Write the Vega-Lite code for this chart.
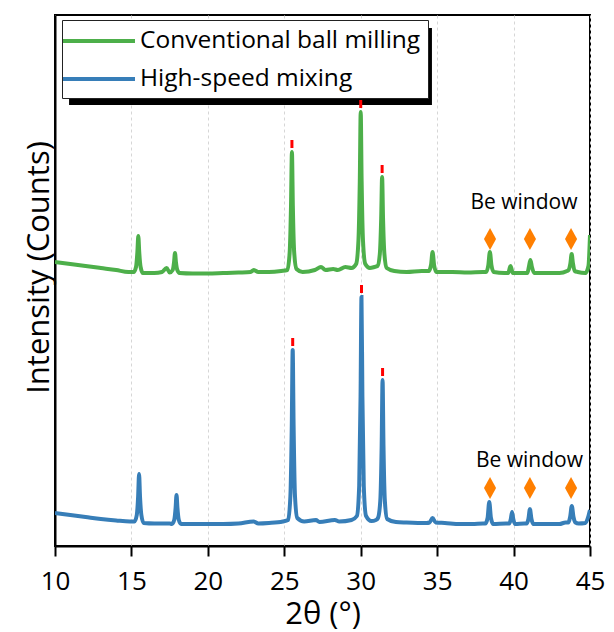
{
  "$schema": "https://vega.github.io/schema/vega-lite/v6.json",
  "width": 535,
  "height": 531,
  "autosize": "none",
  "padding": {"left": 55, "top": 15, "right": 24, "bottom": 86},
  "config": {
    "font": "Open Sans",
    "view": {"stroke": "black", "strokeWidth": 2},
    "axis": {"domainColor": "black", "domainWidth": 2, "tickColor": "black", "tickWidth": 2, "labelColor": "black", "titleColor": "black", "titleFontWeight": "normal", "titleFont": "Open Sans", "labelFont": "Open Sans"},
    "legend": {"orient": "none", "legendX": 7, "legendY": 5, "strokeColor": "#222222", "strokeWidth": 1, "fillColor": "white", "padding": 7, "labelFont": "Open Sans", "labelFontSize": 24.5, "labelColor": "black", "labelLimit": 0, "symbolType": "M-3,0H3", "symbolSize": 576, "symbolStrokeWidth": 4, "symbolOffset": 16, "labelOffset": 27, "rowPadding": 12}
  },
  "datasets": {
    "xrd": [
      {"sample":"Conventional ball milling","two_theta":10,"intensity":284},
      {"sample":"Conventional ball milling","two_theta":11,"intensity":282},
      {"sample":"Conventional ball milling","two_theta":12,"intensity":280},
      {"sample":"Conventional ball milling","two_theta":13,"intensity":278},
      {"sample":"Conventional ball milling","two_theta":14,"intensity":276},
      {"sample":"Conventional ball milling","two_theta":14.8,"intensity":274},
      {"sample":"Conventional ball milling","two_theta":15.15,"intensity":274},
      {"sample":"Conventional ball milling","two_theta":15.3,"intensity":279},
      {"sample":"Conventional ball milling","two_theta":15.39,"intensity":294},
      {"sample":"Conventional ball milling","two_theta":15.45,"intensity":310},
      {"sample":"Conventional ball milling","two_theta":15.51,"intensity":294},
      {"sample":"Conventional ball milling","two_theta":15.6,"intensity":279},
      {"sample":"Conventional ball milling","two_theta":15.75,"intensity":273},
      {"sample":"Conventional ball milling","two_theta":16.5,"intensity":273},
      {"sample":"Conventional ball milling","two_theta":17.0,"intensity":274},
      {"sample":"Conventional ball milling","two_theta":17.3,"intensity":278},
      {"sample":"Conventional ball milling","two_theta":17.5,"intensity":273.5},
      {"sample":"Conventional ball milling","two_theta":17.7,"intensity":276},
      {"sample":"Conventional ball milling","two_theta":17.79,"intensity":284},
      {"sample":"Conventional ball milling","two_theta":17.85,"intensity":293},
      {"sample":"Conventional ball milling","two_theta":17.91,"intensity":284},
      {"sample":"Conventional ball milling","two_theta":18.0,"intensity":276},
      {"sample":"Conventional ball milling","two_theta":18.15,"intensity":273},
      {"sample":"Conventional ball milling","two_theta":19,"intensity":272.5},
      {"sample":"Conventional ball milling","two_theta":20,"intensity":272.5},
      {"sample":"Conventional ball milling","two_theta":21,"intensity":273},
      {"sample":"Conventional ball milling","two_theta":22,"intensity":273.5},
      {"sample":"Conventional ball milling","two_theta":22.8,"intensity":274},
      {"sample":"Conventional ball milling","two_theta":23.0,"intensity":276},
      {"sample":"Conventional ball milling","two_theta":23.3,"intensity":274},
      {"sample":"Conventional ball milling","two_theta":24,"intensity":274},
      {"sample":"Conventional ball milling","two_theta":24.8,"intensity":275},
      {"sample":"Conventional ball milling","two_theta":25.2,"intensity":276},
      {"sample":"Conventional ball milling","two_theta":25.35,"intensity":293},
      {"sample":"Conventional ball milling","two_theta":25.44,"intensity":340},
      {"sample":"Conventional ball milling","two_theta":25.5,"intensity":394},
      {"sample":"Conventional ball milling","two_theta":25.56,"intensity":340},
      {"sample":"Conventional ball milling","two_theta":25.65,"intensity":293},
      {"sample":"Conventional ball milling","two_theta":25.8,"intensity":277},
      {"sample":"Conventional ball milling","two_theta":26.2,"intensity":274},
      {"sample":"Conventional ball milling","two_theta":27.0,"intensity":276},
      {"sample":"Conventional ball milling","two_theta":27.4,"intensity":279},
      {"sample":"Conventional ball milling","two_theta":27.7,"intensity":276},
      {"sample":"Conventional ball milling","two_theta":28.2,"intensity":277},
      {"sample":"Conventional ball milling","two_theta":28.5,"intensity":276},
      {"sample":"Conventional ball milling","two_theta":29.0,"intensity":279},
      {"sample":"Conventional ball milling","two_theta":29.4,"intensity":278},
      {"sample":"Conventional ball milling","two_theta":29.7,"intensity":282},
      {"sample":"Conventional ball milling","two_theta":29.85,"intensity":305},
      {"sample":"Conventional ball milling","two_theta":29.94,"intensity":365},
      {"sample":"Conventional ball milling","two_theta":30.0,"intensity":434},
      {"sample":"Conventional ball milling","two_theta":30.06,"intensity":365},
      {"sample":"Conventional ball milling","two_theta":30.15,"intensity":305},
      {"sample":"Conventional ball milling","two_theta":30.3,"intensity":282},
      {"sample":"Conventional ball milling","two_theta":30.6,"intensity":278},
      {"sample":"Conventional ball milling","two_theta":30.9,"intensity":279},
      {"sample":"Conventional ball milling","two_theta":31.1,"intensity":280},
      {"sample":"Conventional ball milling","two_theta":31.25,"intensity":292},
      {"sample":"Conventional ball milling","two_theta":31.34,"intensity":328},
      {"sample":"Conventional ball milling","two_theta":31.4,"intensity":369},
      {"sample":"Conventional ball milling","two_theta":31.46,"intensity":328},
      {"sample":"Conventional ball milling","two_theta":31.55,"intensity":292},
      {"sample":"Conventional ball milling","two_theta":31.7,"intensity":278},
      {"sample":"Conventional ball milling","two_theta":32.2,"intensity":275},
      {"sample":"Conventional ball milling","two_theta":33,"intensity":274},
      {"sample":"Conventional ball milling","two_theta":34,"intensity":275},
      {"sample":"Conventional ball milling","two_theta":34.45,"intensity":275},
      {"sample":"Conventional ball milling","two_theta":34.6,"intensity":281},
      {"sample":"Conventional ball milling","two_theta":34.7,"intensity":294},
      {"sample":"Conventional ball milling","two_theta":34.8,"intensity":281},
      {"sample":"Conventional ball milling","two_theta":34.95,"intensity":274},
      {"sample":"Conventional ball milling","two_theta":36,"intensity":274},
      {"sample":"Conventional ball milling","two_theta":37,"intensity":273.5},
      {"sample":"Conventional ball milling","two_theta":38.0,"intensity":274},
      {"sample":"Conventional ball milling","two_theta":38.2,"intensity":274},
      {"sample":"Conventional ball milling","two_theta":38.35,"intensity":281},
      {"sample":"Conventional ball milling","two_theta":38.45,"intensity":294},
      {"sample":"Conventional ball milling","two_theta":38.55,"intensity":281},
      {"sample":"Conventional ball milling","two_theta":38.7,"intensity":274},
      {"sample":"Conventional ball milling","two_theta":39.4,"intensity":273},
      {"sample":"Conventional ball milling","two_theta":39.65,"intensity":273},
      {"sample":"Conventional ball milling","two_theta":39.8,"intensity":280},
      {"sample":"Conventional ball milling","two_theta":39.95,"intensity":273},
      {"sample":"Conventional ball milling","two_theta":40.6,"intensity":273},
      {"sample":"Conventional ball milling","two_theta":40.9,"intensity":273},
      {"sample":"Conventional ball milling","two_theta":41.0,"intensity":279},
      {"sample":"Conventional ball milling","two_theta":41.1,"intensity":286},
      {"sample":"Conventional ball milling","two_theta":41.2,"intensity":279},
      {"sample":"Conventional ball milling","two_theta":41.35,"intensity":273},
      {"sample":"Conventional ball milling","two_theta":42,"intensity":273},
      {"sample":"Conventional ball milling","two_theta":43,"intensity":273},
      {"sample":"Conventional ball milling","two_theta":43.5,"intensity":275},
      {"sample":"Conventional ball milling","two_theta":43.6,"intensity":276},
      {"sample":"Conventional ball milling","two_theta":43.72,"intensity":283},
      {"sample":"Conventional ball milling","two_theta":43.8,"intensity":292},
      {"sample":"Conventional ball milling","two_theta":43.88,"intensity":283},
      {"sample":"Conventional ball milling","two_theta":44.0,"intensity":275},
      {"sample":"Conventional ball milling","two_theta":44.2,"intensity":274},
      {"sample":"Conventional ball milling","two_theta":44.7,"intensity":273},
      {"sample":"Conventional ball milling","two_theta":44.9,"intensity":280},
      {"sample":"Conventional ball milling","two_theta":45.0,"intensity":311},
      {"sample":"High-speed mixing","two_theta":10,"intensity":33},
      {"sample":"High-speed mixing","two_theta":11,"intensity":31},
      {"sample":"High-speed mixing","two_theta":12,"intensity":29},
      {"sample":"High-speed mixing","two_theta":13,"intensity":27},
      {"sample":"High-speed mixing","two_theta":14,"intensity":25.5},
      {"sample":"High-speed mixing","two_theta":14.9,"intensity":24.5},
      {"sample":"High-speed mixing","two_theta":15.2,"intensity":24.5},
      {"sample":"High-speed mixing","two_theta":15.35,"intensity":31},
      {"sample":"High-speed mixing","two_theta":15.44,"intensity":50},
      {"sample":"High-speed mixing","two_theta":15.5,"intensity":72},
      {"sample":"High-speed mixing","two_theta":15.56,"intensity":50},
      {"sample":"High-speed mixing","two_theta":15.65,"intensity":31},
      {"sample":"High-speed mixing","two_theta":15.8,"intensity":23},
      {"sample":"High-speed mixing","two_theta":16.5,"intensity":22.5},
      {"sample":"High-speed mixing","two_theta":17.5,"intensity":22.5},
      {"sample":"High-speed mixing","two_theta":17.65,"intensity":22},
      {"sample":"High-speed mixing","two_theta":17.8,"intensity":26},
      {"sample":"High-speed mixing","two_theta":17.89,"intensity":38},
      {"sample":"High-speed mixing","two_theta":17.95,"intensity":51},
      {"sample":"High-speed mixing","two_theta":18.01,"intensity":38},
      {"sample":"High-speed mixing","two_theta":18.1,"intensity":26},
      {"sample":"High-speed mixing","two_theta":18.25,"intensity":22},
      {"sample":"High-speed mixing","two_theta":19,"intensity":22},
      {"sample":"High-speed mixing","two_theta":20,"intensity":22},
      {"sample":"High-speed mixing","two_theta":21,"intensity":22},
      {"sample":"High-speed mixing","two_theta":22,"intensity":22.5},
      {"sample":"High-speed mixing","two_theta":23.0,"intensity":24.5},
      {"sample":"High-speed mixing","two_theta":23.3,"intensity":22.5},
      {"sample":"High-speed mixing","two_theta":24,"intensity":23},
      {"sample":"High-speed mixing","two_theta":24.9,"intensity":24.5},
      {"sample":"High-speed mixing","two_theta":25.25,"intensity":26},
      {"sample":"High-speed mixing","two_theta":25.4,"intensity":50},
      {"sample":"High-speed mixing","two_theta":25.49,"intensity":120},
      {"sample":"High-speed mixing","two_theta":25.55,"intensity":196},
      {"sample":"High-speed mixing","two_theta":25.61,"intensity":120},
      {"sample":"High-speed mixing","two_theta":25.7,"intensity":50},
      {"sample":"High-speed mixing","two_theta":25.85,"intensity":28},
      {"sample":"High-speed mixing","two_theta":26.3,"intensity":24.5},
      {"sample":"High-speed mixing","two_theta":27.07,"intensity":26},
      {"sample":"High-speed mixing","two_theta":27.3,"intensity":24},
      {"sample":"High-speed mixing","two_theta":28.31,"intensity":26},
      {"sample":"High-speed mixing","two_theta":28.6,"intensity":24.5},
      {"sample":"High-speed mixing","two_theta":29.4,"intensity":26},
      {"sample":"High-speed mixing","two_theta":29.75,"intensity":30},
      {"sample":"High-speed mixing","two_theta":29.9,"intensity":60},
      {"sample":"High-speed mixing","two_theta":29.99,"intensity":150},
      {"sample":"High-speed mixing","two_theta":30.05,"intensity":249},
      {"sample":"High-speed mixing","two_theta":30.11,"intensity":150},
      {"sample":"High-speed mixing","two_theta":30.2,"intensity":60},
      {"sample":"High-speed mixing","two_theta":30.35,"intensity":30},
      {"sample":"High-speed mixing","two_theta":30.7,"intensity":25},
      {"sample":"High-speed mixing","two_theta":31.0,"intensity":26},
      {"sample":"High-speed mixing","two_theta":31.13,"intensity":28},
      {"sample":"High-speed mixing","two_theta":31.28,"intensity":45},
      {"sample":"High-speed mixing","two_theta":31.37,"intensity":100},
      {"sample":"High-speed mixing","two_theta":31.43,"intensity":166},
      {"sample":"High-speed mixing","two_theta":31.49,"intensity":100},
      {"sample":"High-speed mixing","two_theta":31.58,"intensity":45},
      {"sample":"High-speed mixing","two_theta":31.73,"intensity":27},
      {"sample":"High-speed mixing","two_theta":32.3,"intensity":24},
      {"sample":"High-speed mixing","two_theta":33,"intensity":23.5},
      {"sample":"High-speed mixing","two_theta":34.3,"intensity":23},
      {"sample":"High-speed mixing","two_theta":34.5,"intensity":23.5},
      {"sample":"High-speed mixing","two_theta":34.7,"intensity":28},
      {"sample":"High-speed mixing","two_theta":34.9,"intensity":23.5},
      {"sample":"High-speed mixing","two_theta":35.5,"intensity":23},
      {"sample":"High-speed mixing","two_theta":36.5,"intensity":22},
      {"sample":"High-speed mixing","two_theta":37.3,"intensity":22},
      {"sample":"High-speed mixing","two_theta":38.0,"intensity":22.5},
      {"sample":"High-speed mixing","two_theta":38.15,"intensity":22.5},
      {"sample":"High-speed mixing","two_theta":38.3,"intensity":28},
      {"sample":"High-speed mixing","two_theta":38.41,"intensity":44},
      {"sample":"High-speed mixing","two_theta":38.52,"intensity":28},
      {"sample":"High-speed mixing","two_theta":38.67,"intensity":22},
      {"sample":"High-speed mixing","two_theta":39.5,"intensity":22.5},
      {"sample":"High-speed mixing","two_theta":39.72,"intensity":22.5},
      {"sample":"High-speed mixing","two_theta":39.82,"intensity":27},
      {"sample":"High-speed mixing","two_theta":39.9,"intensity":34},
      {"sample":"High-speed mixing","two_theta":39.98,"intensity":27},
      {"sample":"High-speed mixing","two_theta":40.1,"intensity":22},
      {"sample":"High-speed mixing","two_theta":40.7,"intensity":22.5},
      {"sample":"High-speed mixing","two_theta":40.85,"intensity":22.5},
      {"sample":"High-speed mixing","two_theta":40.97,"intensity":27},
      {"sample":"High-speed mixing","two_theta":41.07,"intensity":37},
      {"sample":"High-speed mixing","two_theta":41.17,"intensity":27},
      {"sample":"High-speed mixing","two_theta":41.3,"intensity":22},
      {"sample":"High-speed mixing","two_theta":42,"intensity":22},
      {"sample":"High-speed mixing","two_theta":43,"intensity":22},
      {"sample":"High-speed mixing","two_theta":43.4,"intensity":23.5},
      {"sample":"High-speed mixing","two_theta":43.58,"intensity":23.5},
      {"sample":"High-speed mixing","two_theta":43.7,"intensity":29},
      {"sample":"High-speed mixing","two_theta":43.81,"intensity":40},
      {"sample":"High-speed mixing","two_theta":43.92,"intensity":29},
      {"sample":"High-speed mixing","two_theta":44.05,"intensity":23.5},
      {"sample":"High-speed mixing","two_theta":44.25,"intensity":22.5},
      {"sample":"High-speed mixing","two_theta":44.7,"intensity":23},
      {"sample":"High-speed mixing","two_theta":44.9,"intensity":30},
      {"sample":"High-speed mixing","two_theta":45.0,"intensity":36}
    ],
    "peak_marks": [
      {"two_theta":25.5,"low":398,"high":406},
      {"two_theta":30.0,"low":438,"high":446},
      {"two_theta":31.4,"low":373,"high":381},
      {"two_theta":25.55,"low":200,"high":208},
      {"two_theta":30.05,"low":253,"high":261},
      {"two_theta":31.43,"low":170,"high":178}
    ],
    "be_marks": [
      {"two_theta":38.46,"intensity":307},
      {"two_theta":41.07,"intensity":307},
      {"two_theta":43.76,"intensity":307},
      {"two_theta":38.46,"intensity":58},
      {"two_theta":41.07,"intensity":58},
      {"two_theta":43.76,"intensity":58}
    ],
    "be_labels": [
      {"two_theta":40.68,"intensity":343,"label":"Be window"},
      {"two_theta":41.04,"intensity":85,"label":"Be window"}
    ]
  },
  "layer": [
    {
      "data": {"values": [{}]},
      "mark": {"type": "rect", "color": "black"},
      "encoding": {
        "x": {"datum": 10.92, "type": "quantitative"},
        "x2": {"datum": 34.66},
        "y": {"datum": 518, "type": "quantitative"},
        "y2": {"datum": 441}
      }
    },
    {
      "data": {"name": "xrd"},
      "mark": {"type": "line", "strokeWidth": 4, "interpolate": "monotone", "clip": true},
      "encoding": {
        "x": {
          "field": "two_theta", "type": "quantitative",
          "scale": {"domain": [10, 45], "nice": false, "zero": false},
          "axis": {
            "values": [10, 12.5, 15, 17.5, 20, 22.5, 25, 27.5, 30, 32.5, 35, 37.5, 40, 42.5, 45],
            "labelExpr": "datum.value % 5 === 0 ? format(datum.value, 'd') : ''",
            "labelFontSize": 26,
            "labelPadding": 12,
            "labelFlush": false,
            "labelOverlap": false,
            "tickSize": {"condition": {"test": "datum.value % 5 === 0", "value": 10}, "value": 6},
            "grid": true,
            "gridDash": [3, 3],
            "gridColor": "#d6d6d6",
            "gridWidth": 1,
            "gridOpacity": {"condition": {"test": "datum.value % 5 === 0", "value": 1}, "value": 0},
            "title": "2θ (°)",
            "titleFontSize": 31,
            "titleBaseline": "alphabetic",
            "titleY": 77
          }
        },
        "y": {
          "field": "intensity", "type": "quantitative",
          "scale": {"domain": [0, 531], "nice": false},
          "axis": {
            "ticks": false,
            "labels": false,
            "grid": false,
            "title": "Intensity (Counts)",
            "titleFontSize": 31,
            "titleAngle": 270,
            "titleBaseline": "alphabetic",
            "titleAlign": "center",
            "titleX": -7,
            "titleY": 252
          }
        },
        "color": {
          "field": "sample", "type": "nominal",
          "scale": {"domain": ["Conventional ball milling", "High-speed mixing"], "range": ["#4daf4a", "#377eb8"]},
          "legend": {"title": null}
        }
      }
    },
    {
      "data": {"name": "peak_marks"},
      "mark": {"type": "rule", "color": "#ff0000", "strokeWidth": 3},
      "encoding": {
        "x": {"field": "two_theta", "type": "quantitative"},
        "y": {"field": "low", "type": "quantitative"},
        "y2": {"field": "high"}
      }
    },
    {
      "data": {"name": "be_marks"},
      "mark": {"type": "point", "shape": "M0,-1L0.55,0L0,1L-0.55,0Z", "size": 484, "filled": true, "color": "#ff7f00", "opacity": 1, "strokeWidth": 0},
      "encoding": {
        "x": {"field": "two_theta", "type": "quantitative"},
        "y": {"field": "intensity", "type": "quantitative"}
      }
    },
    {
      "data": {"name": "be_labels"},
      "mark": {"type": "text", "font": "Open Sans", "fontSize": 21, "color": "black", "align": "center", "baseline": "middle"},
      "encoding": {
        "x": {"field": "two_theta", "type": "quantitative"},
        "y": {"field": "intensity", "type": "quantitative"},
        "text": {"field": "label"}
      }
    }
  ]
}
